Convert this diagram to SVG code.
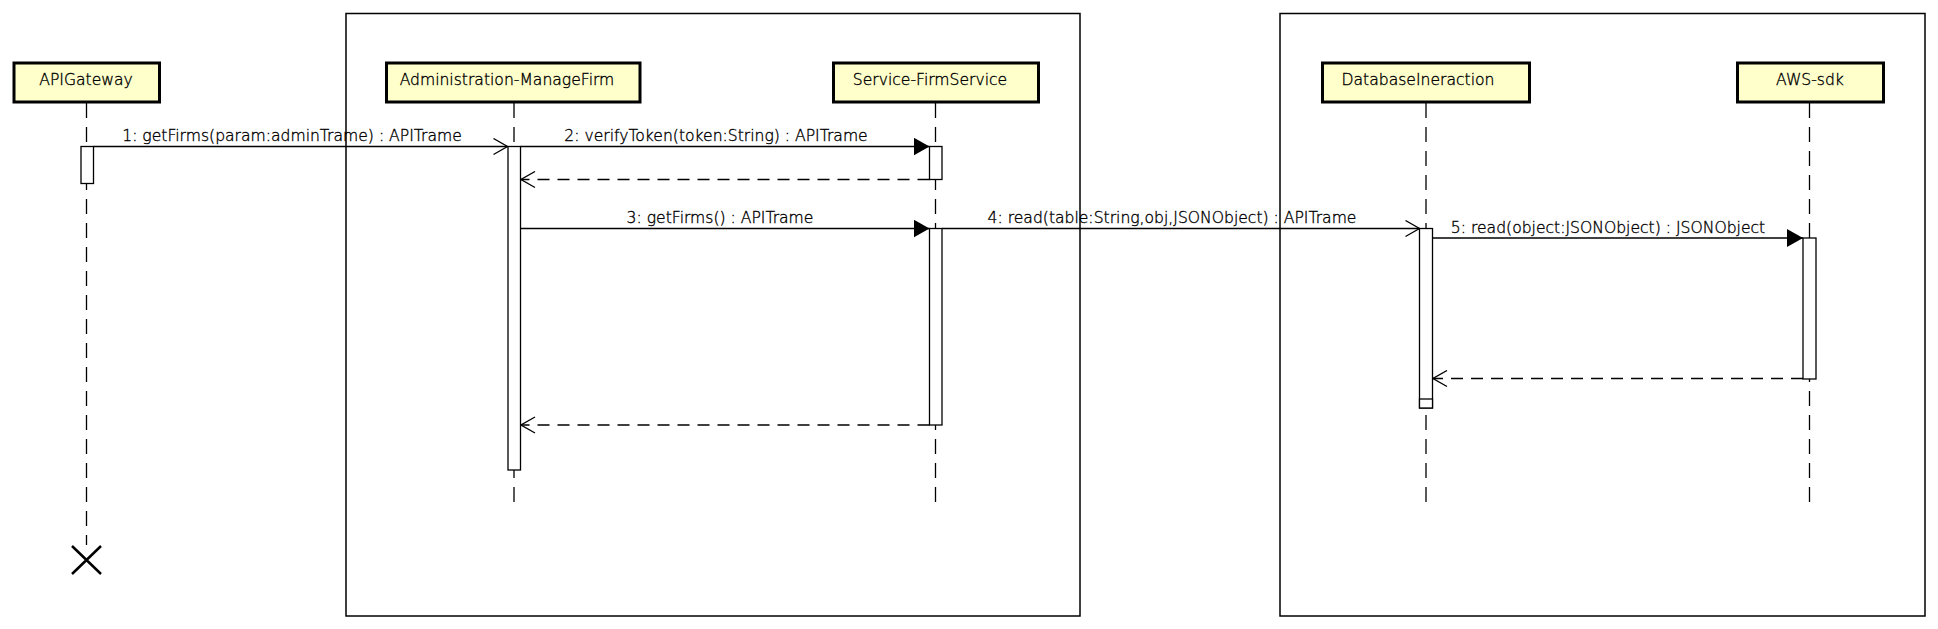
<svg xmlns="http://www.w3.org/2000/svg" width="1938" height="629" viewBox="0 0 1938 629">
<style>
.frame{fill:none;stroke:#000;stroke-width:1.5}
.head{fill:#FFFFCC;stroke:#000;stroke-width:3}
.lbl{font-family:"DejaVu Sans",sans-serif;font-size:15.6px;font-weight:200;fill:#000;stroke:#000;stroke-width:0.35;text-anchor:middle}
.life{stroke:#000;stroke-width:1.3;stroke-dasharray:15 9;fill:none}
.act{fill:#fff;stroke:#000;stroke-width:1.3}
.msg{stroke:#000;stroke-width:1.3;fill:none}
.ret{stroke:#000;stroke-width:1.3;fill:none;stroke-dasharray:12 8}
</style>
<defs>
<marker id="filled" viewBox="0 0 16 18" refX="16" refY="9" markerWidth="16" markerHeight="18" orient="auto" markerUnits="userSpaceOnUse"><path d="M0,0 L16,9 L0,18 z" fill="#000"/></marker>
<marker id="open" viewBox="0 0 16 18" refX="15" refY="9" markerWidth="16" markerHeight="18" orient="auto" markerUnits="userSpaceOnUse"><path d="M1,1 L15,9 L1,17" fill="none" stroke="#000" stroke-width="1.3" stroke-dasharray="none"/></marker>
</defs>
<rect width="1938" height="629" fill="#fff"/>
<g id="frames">
<rect class="frame" x="346" y="13.5" width="734" height="602.5"/>
<rect class="frame" x="1280" y="13.5" width="645" height="602.5"/>
</g>
<g id="lifelines">
<line class="life" x1="86.5" y1="103" x2="86.5" y2="545"/>
<line class="life" x1="514" y1="103" x2="514" y2="502"/>
<line class="life" x1="935.5" y1="103" x2="935.5" y2="502"/>
<line class="life" x1="1426" y1="103" x2="1426" y2="502"/>
<line class="life" x1="1809.5" y1="103" x2="1809.5" y2="502"/>
</g>
<g id="APIGateway">
<rect class="head" x="14" y="63" width="145.5" height="39"/>
<text class="lbl" x="86" y="85">APIGateway</text>
<rect class="act" x="81" y="146.5" width="12.5" height="37"/>
<path d="M72,546 L101,574 M101,546 L72,574" stroke="#000" stroke-width="2.5" fill="none"/>
</g>
<g id="Administration-ManageFirm">
<rect class="head" x="386.5" y="63" width="253.5" height="39"/>
<text class="lbl" x="507" y="85">Administration-ManageFirm</text>
<rect class="act" x="508" y="146.5" width="12.5" height="323.5"/>
</g>
<g id="Service-FirmService">
<rect class="head" x="833.5" y="63" width="205" height="39"/>
<text class="lbl" x="930" y="85">Service-FirmService</text>
<rect class="act" x="929.5" y="146.5" width="12.5" height="33"/>
<rect class="act" x="929.5" y="228.5" width="12.5" height="196.5"/>
</g>
<g id="DatabaseIneraction">
<rect class="head" x="1322.5" y="63" width="207" height="39"/>
<text class="lbl" x="1418" y="85">DatabaseIneraction</text>
<rect class="act" x="1419.5" y="228.5" width="13" height="179.5"/>
<rect class="act" x="1419.5" y="399" width="13" height="9"/>
</g>
<g id="AWS-sdk">
<rect class="head" x="1737.5" y="63" width="146" height="39"/>
<text class="lbl" x="1810" y="85">AWS-sdk</text>
<rect class="act" x="1803" y="238" width="13" height="141"/>
</g>
<g id="connectors">
<line class="msg" x1="93.5" y1="146.5" x2="507.5" y2="146.5" marker-end="url(#open)"/>
<text class="lbl" x="292" y="141">1: getFirms(param:adminTrame) : APITrame</text>
<line class="msg" x1="520.5" y1="146.5" x2="929.5" y2="146.5" marker-end="url(#filled)"/>
<text class="lbl" x="716" y="141">2: verifyToken(token:String) : APITrame</text>
<line class="ret" x1="929.5" y1="179.5" x2="521" y2="179.5" marker-end="url(#open)"/>
<line class="msg" x1="520.5" y1="228.5" x2="929.5" y2="228.5" marker-end="url(#filled)"/>
<text class="lbl" x="720" y="223">3: getFirms() : APITrame</text>
<line class="msg" x1="942" y1="228.5" x2="1419.5" y2="228.5" marker-end="url(#open)"/>
<text class="lbl" x="1172" y="223">4: read(table:String,obj,JSONObject) : APITrame</text>
<line class="msg" x1="1432.5" y1="238" x2="1803" y2="238" marker-end="url(#filled)"/>
<text class="lbl" x="1608" y="233">5: read(object:JSONObject) : JSONObject</text>
<line class="ret" x1="1803" y1="378.5" x2="1433" y2="378.5" marker-end="url(#open)"/>
<line class="ret" x1="929.5" y1="425" x2="521" y2="425" marker-end="url(#open)"/>
</g>
</svg>
